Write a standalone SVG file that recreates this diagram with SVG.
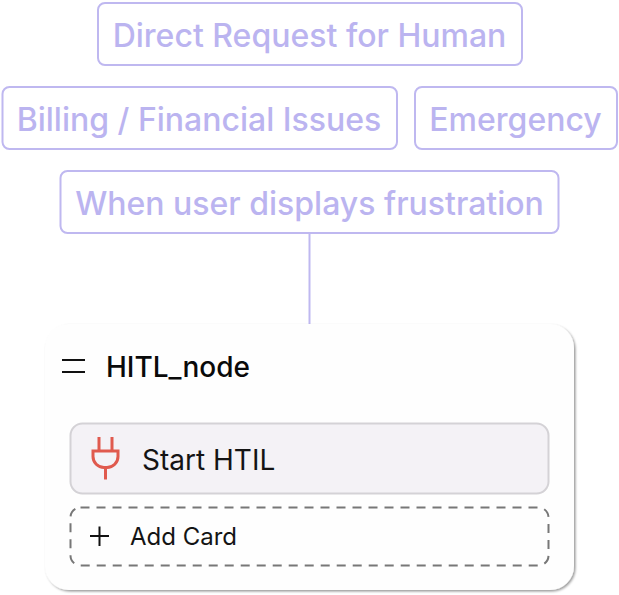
<svg xmlns="http://www.w3.org/2000/svg" width="619" height="595" viewBox="0 0 619 595">
<defs>
<filter id="shadow" x="-5%" y="-5%" width="110%" height="110%"><feDropShadow dx="1.5" dy="1.5" stdDeviation="1" flood-color="#000" flood-opacity="0.4"/></filter>
</defs>
<style>
text{font-family:Inter,"Liberation Sans",sans-serif}
.tag rect{fill:#fff;stroke:#bfb8f0;stroke-width:2}
.tag text{fill:#bbb4f0;font-size:32px;font-weight:470;text-anchor:middle}
.ink{stroke:#111;fill:none}
</style>
<rect width="619" height="595" fill="#fff"/>
<g id="connectors"><line x1="309.500" y1="233" x2="309.500" y2="324" stroke="#bfb8f0" stroke-width="2"/></g>
<g id="direct" class="tag"><rect x="98" y="3" width="424" height="62" rx="7"/><text x="309.500" y="46.500">Direct Request for Human</text></g>
<g id="billing" class="tag"><rect x="2.500" y="87" width="394.500" height="62" rx="7"/><text x="199" y="130.500">Billing / Financial Issues</text></g>
<g id="emergency" class="tag"><rect x="415" y="87" width="202" height="62" rx="7"/><text x="515.500" y="130.500">Emergency</text></g>
<g id="frustration" class="tag"><rect x="60.500" y="171" width="498" height="62" rx="7"/><text x="309.500" y="214.500">When user displays frustration</text></g>
<g id="hitl-node">
<rect x="45" y="324" width="529" height="266" rx="24" fill="#fefefe" filter="url(#shadow)"/>
<path class="ink" stroke-width="2" d="M62 360H85M62 372H85"/>
<text x="106" y="376.500" font-size="28" font-weight="450" fill="#0a0a0a">HITL_node</text>
</g>
<g id="start-card">
<rect x="70.500" y="423.500" width="478" height="70" rx="12" fill="#f4f2f6" stroke="#d4d2d6" stroke-width="2"/>
<path d="M99 437V451M112 437V451M93 451H118V456.500A11 11 0 0 1 107 467.500H104A11 11 0 0 1 93 456.500ZM105.500 467.500V479.500" fill="none" stroke="#e05a4e" stroke-width="3"/>
<text x="142" y="469.500" font-size="28" fill="#141414">Start HTIL</text>
</g>
<g id="add-card">
<rect x="70.500" y="507.500" width="478" height="58" rx="10" fill="none" stroke="#777" stroke-width="2" stroke-dasharray="9 7"/>
<path class="ink" stroke-width="2" d="M90 536H109M99.500 526.500V546"/>
<text x="130" y="545" font-size="24" fill="#141414">Add Card</text>
</g>
</svg>
